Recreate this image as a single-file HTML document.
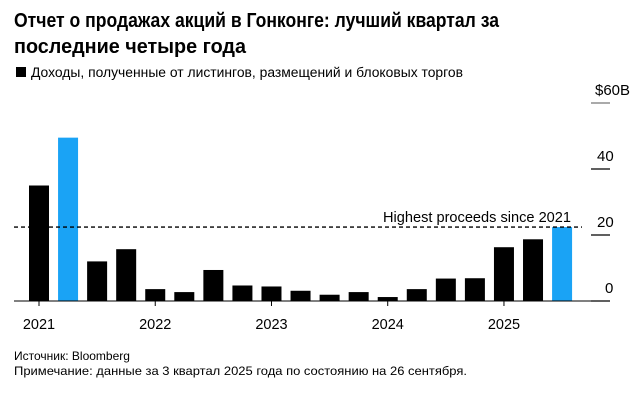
<!DOCTYPE html>
<html><head><meta charset="utf-8"><style>
html,body{margin:0;padding:0;background:#fff;width:637px;height:403px;overflow:hidden}
svg{display:block;font-family:"Liberation Sans","Noto Sans CJK SC",sans-serif}
</style></head><body>
<svg id="chart" width="637" height="403">
<text x="14" y="27" font-size="20" font-weight="bold" textLength="485" lengthAdjust="spacingAndGlyphs">Отчет о продажах акций в Гонконге: лучший квартал за</text>
<text x="14" y="53" font-size="20" font-weight="bold" textLength="232" lengthAdjust="spacingAndGlyphs">последние четыре года</text>
<rect x="16" y="67" width="10" height="10" fill="#000"/>
<text x="31" y="77" font-size="13.5" textLength="432" lengthAdjust="spacingAndGlyphs">Доходы, полученные от листингов, размещений и блоковых торгов</text>
<g id="bars"></g>
<g id="axis"></g>
<text x="14" y="360" font-size="12">Источник: Bloomberg</text>
<text x="14" y="375" font-size="12" textLength="453" lengthAdjust="spacingAndGlyphs">Примечание: данные за 3 квартал 2025 года по состоянию на 26 сентября.</text>
</svg>
<script>
const values=[35,49.5,12,15.7,3.6,2.7,9.4,4.7,4.4,3.1,1.9,2.7,1.2,3.6,6.8,6.9,16.3,18.7,22.4];
const highlighted=[1,18];
const yTicks=[0,20,40,60];
const yTickLabels=["0","20","40","$60B"];
const yearLabels=["2021","2022","2023","2024","2025"];
const referenceValue=22.4;
const NS="http://www.w3.org/2000/svg";
const y0=301, pxPerUnit=3.3, x0=29, pitch=29.06, bw=20;
const y=v=>y0-v*pxPerUnit;
const x=i=>x0+i*pitch;
const bars=document.getElementById('bars'), axis=document.getElementById('axis');
function mk(tag,attrs,parent){const e=document.createElementNS(NS,tag);for(const k in attrs)e.setAttribute(k,attrs[k]);parent.appendChild(e);return e;}
values.forEach((v,i)=>{
  const r=mk('rect',{x:x(i),y:y(v),width:bw,height:v*pxPerUnit,fill:highlighted.includes(i)?'#1aa3f5':'#000'},bars);
  
  
});
const base=mk('line',{x1:14,x2:610,y1:y0,y2:y0,stroke:'#000','stroke-width':1},axis);


yTicks.forEach((t,i)=>{
  const l=mk('line',{x1:591,x2:610,y1:y(t),y2:y(t),stroke:i==3?'#777':'#000','stroke-width':1.2},axis);
  
  
  const tx=mk('text',{x:i==3?595:(i==0?605:597),y:y(t)-8,'font-size':15},axis);
  tx.textContent=yTickLabels[i];
  
  
});
yearLabels.forEach((lab,i)=>{
  const cx=x(i*4)+bw/2;
  const l=mk('line',{x1:cx,x2:cx,y1:y0,y2:y0+5,stroke:'#000'},axis);
  
  
  const tx=mk('text',{x:cx,y:y0+28,'font-size':14.5,'text-anchor':'middle'},axis);
  tx.textContent=lab;
  
  
});
const ref=mk('line',{x1:14,x2:582,y1:y(referenceValue),y2:y(referenceValue),stroke:'#000','stroke-width':1.3,'stroke-dasharray':'4,3'},axis);


const rt=mk('text',{x:571,y:y(referenceValue)-5,'font-size':14.5,'text-anchor':'end',textLength:188,lengthAdjust:'spacingAndGlyphs'},axis);
rt.textContent='Highest proceeds since 2021';


</script>
</body></html>
